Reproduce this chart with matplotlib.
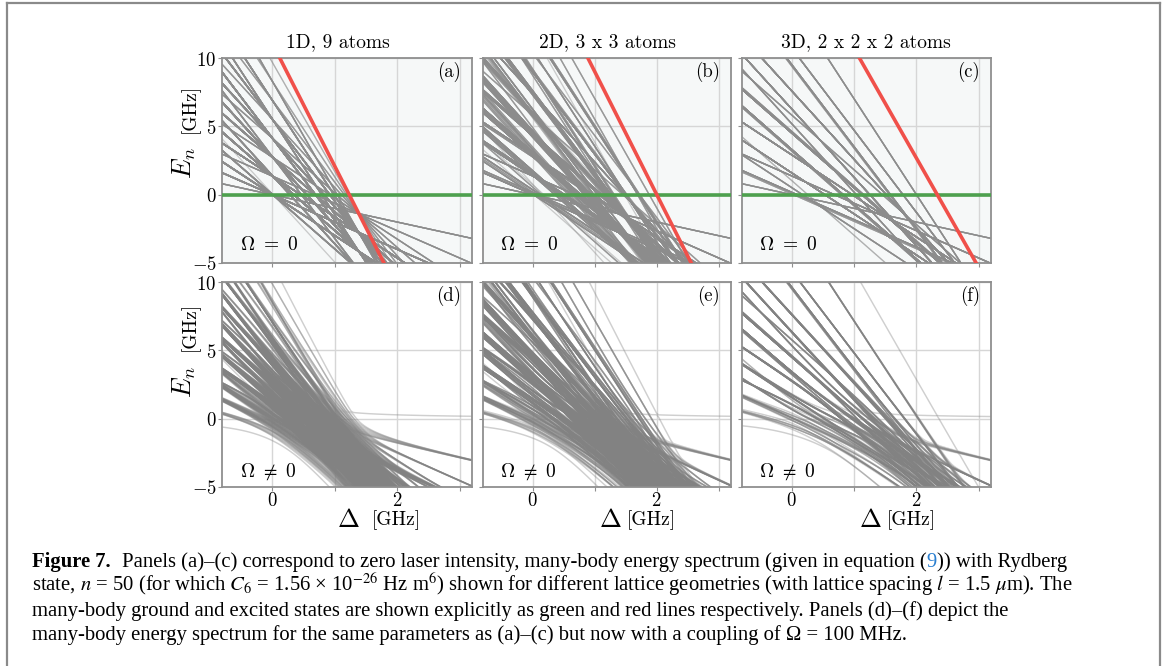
import numpy as np
import matplotlib
matplotlib.use("Agg")
import matplotlib.pyplot as plt
from matplotlib.collections import LineCollection
from matplotlib.lines import Line2D

# ---------------- data (physical parameters and geometries) ----------------
C6_HZ_M6 = 1.56e-26          # van der Waals coefficient, n = 50
LATTICE_SPACING_M = 1.5e-6   # lattice spacing l
RABI_GHZ = 0.5               # effective coupling seen in panels (d)-(f)
DETUNING_MIN, DETUNING_MAX = -0.8, 3.2
ENERGY_MIN, ENERGY_MAX = -5, 10

chain_sites = [(0, 0, 0), (1, 0, 0), (2, 0, 0), (3, 0, 0), (4, 0, 0),
               (5, 0, 0), (6, 0, 0), (7, 0, 0), (8, 0, 0)]
square_sites = [(0, 0, 0), (1, 0, 0), (2, 0, 0),
                (0, 1, 0), (1, 1, 0), (2, 1, 0),
                (0, 2, 0), (1, 2, 0), (2, 2, 0)]
cube_sites = [(0, 0, 0), (1, 0, 0), (0, 1, 0), (1, 1, 0),
              (0, 0, 1), (1, 0, 1), (0, 1, 1), (1, 1, 1)]

panel_titles = ["1D, 9 atoms", "2D, 3 x 3 atoms", "3D, 2 x 2 x 2 atoms"]
panel_letters = ["(a)", "(b)", "(c)", "(d)", "(e)", "(f)"]
x_ticks = [0, 1, 2, 3]
x_tick_labels = ["0", "", "2", ""]
y_ticks = [-5, 0, 5, 10]
y_tick_labels = ["-5", "0", "5", "10"]

caption_lines = [
    [("Figure 7.", dict(weight="bold")),
     ("Panels (a)–(c) correspond to zero laser intensity, many-body energy spectrum (given in equation (", {}),
     ("9", dict(color="#2a7fd0")),
     (")) with Rydberg", {})],
    [("state, $n$ = 50 (for which $C_6$ = 1.56 × 10$^{-26}$ Hz m$^6$) shown for different lattice geometries (with lattice spacing $l$ = 1.5 $\\mu$m). The", {})],
    [("many-body ground and excited states are shown explicitly as green and red lines respectively. Panels (d)–(f) depict the", {})],
    [("many-body energy spectrum for the same parameters as (a)–(c) but now with a coupling of Ω = 100 MHz.", {})],
]

# ---------------- model ----------------
def spectrum_terms(sites):
    pos = np.array(sites, float) * LATTICE_SPACING_M
    N = len(pos)
    d = np.linalg.norm(pos[:, None, :] - pos[None, :, :], axis=-1)
    V = np.zeros((N, N))
    m = d > 0
    V[m] = C6_HZ_M6 / d[m] ** 6 / 1e9
    states = np.arange(2 ** N)
    occ = (states[:, None] >> np.arange(N)) & 1
    n_exc = occ.sum(1)
    e_int = 0.5 * np.einsum("si,ij,sj->s", occ, V, occ)
    X = np.zeros((2 ** N, 2 ** N))
    for i in range(N):
        X[states, states ^ (1 << i)] = 1.0
    return n_exc, e_int, X

W, H = 1163, 666
fig = plt.figure(figsize=(W / 100, H / 100), dpi=100)
plt.rcParams["mathtext.fontset"] = "cm"

def rect(x0, y0, x1, y1):
    return [x0 / W, 1 - y1 / H, (x1 - x0) / W, (y1 - y0) / H]

cols = [(222, 472), (483, 731), (742, 991)]
rows = [(58, 263), (282, 487)]
geoms = [chain_sites, square_sites, cube_sites]
grid = np.linspace(DETUNING_MIN, DETUNING_MAX, 121)

SPINE = "#8f8f8f"

def style_axes(ax, row, col, face):
    ax.set_facecolor(face)
    ax.set_xlim(DETUNING_MIN, DETUNING_MAX)
    ax.set_ylim(ENERGY_MIN, ENERGY_MAX)
    ax.set_xticks(x_ticks)
    ax.set_yticks(y_ticks)
    ax.set_xticklabels(["$%s$" % t if t else "" for t in x_tick_labels])
    ax.set_yticklabels(["$%s$" % t for t in y_tick_labels])
    ax.grid(True, color="#d6d6d6", lw=1.0)
    ax.set_axisbelow(True)
    for s in ax.spines.values():
        s.set_color(SPINE)
        s.set_linewidth(1.3)
    ax.tick_params(direction="out", length=3, color=SPINE, labelsize=13.5,
                   labelbottom=(row == 1), labelleft=(col == 0))
    ax.tick_params(axis="x", pad=0)
    ax.tick_params(axis="y", pad=1)

for col, sites in enumerate(geoms):
    n_exc, e_int, X = spectrum_terms(sites)
    # --- top: Omega = 0 ---
    ax = fig.add_axes(rect(cols[col][0], rows[0][0], cols[col][1], rows[0][1]))
    style_axes(ax, 0, col, "#f6f8f8")
    segs = [[(DETUNING_MIN, e - k * DETUNING_MIN), (DETUNING_MAX, e - k * DETUNING_MAX)]
            for k, e in zip(n_exc, e_int)]
    ax.add_collection(LineCollection(segs, colors="#8c8c8c", alpha=0.42, linewidths=0.95, zorder=2))
    ax.axhline(0, color="#4ea04e", lw=2.6, zorder=3)
    kmax = n_exc.max()
    emax = e_int[np.argmax(n_exc)]
    ax.plot([DETUNING_MIN, DETUNING_MAX], [emax - kmax * DETUNING_MIN, emax - kmax * DETUNING_MAX],
            color="#f0504a", lw=2.6, zorder=4)
    ax.text(0.955, 0.93, panel_letters[col], transform=ax.transAxes, ha="right", va="center",
            fontsize=13.5, family="cmr10")
    ax.text(0.07, 0.09, r"$\Omega\ =\ 0$", transform=ax.transAxes, ha="left", va="center", fontsize=14)
    # --- bottom: Omega != 0 ---
    ax2 = fig.add_axes(rect(cols[col][0], rows[1][0], cols[col][1], rows[1][1]))
    style_axes(ax2, 1, col, "white")
    base = np.diag(e_int.astype(float)) + 0.5 * RABI_GHZ * X
    ev = np.empty((len(grid), len(n_exc)))
    for i, dlt in enumerate(grid):
        ev[i] = np.linalg.eigvalsh(base - dlt * np.diag(n_exc.astype(float)))
    segs2 = [np.column_stack([grid, ev[:, j]]) for j in range(ev.shape[1])]
    ax2.add_collection(LineCollection(segs2, colors="#828282", alpha=0.38, linewidths=1.05, zorder=2))
    ax2.text(0.955, 0.93, panel_letters[col + 3], transform=ax2.transAxes, ha="right", va="center",
             fontsize=13.5, family="cmr10")
    ax2.text(0.07, 0.075, r"$\Omega\ \neq\ 0$", transform=ax2.transAxes, ha="left", va="center", fontsize=14)

# titles
for cx, t in zip([338, 607, 866], panel_titles):
    fig.text(cx / W, 1 - 42 / H, t, ha="center", va="center", fontsize=14, family="cmr10")

# axis labels
for ey, gy in [(163, 108), (382, 326)]:
    fig.text(184 / W, 1 - ey / H, r"$E_n$", rotation=90, ha="center", va="center", fontsize=19)
    fig.text(190 / W, 1 - gy / H, "[GHz]", rotation=90, ha="center", va="center", fontsize=14, family="cmr10")
for dx, gx in [(348, 396), (610, 651), (870, 911)]:
    fig.text(dx / W, 1 - 520 / H, r"$\Delta$", ha="center", va="center", fontsize=19)
    fig.text(gx / W, 1 - 520 / H, "[GHz]", ha="center", va="center", fontsize=14, family="cmr10")

# border
bc = "#8a8a8a"
for xs, ys in [([7, 7], [3, 666]), ([7, 1160], [3, 3]), ([1160, 1160], [3, 666])]:
    fig.add_artist(Line2D([x / W for x in xs], [1 - y / H for y in ys], color=bc, lw=1.6))

# caption
renderer = fig.canvas.get_renderer()

def seg_width(txt, kw, size):
    t = fig.text(0, 0, txt, fontsize=size, family="Liberation Serif", math_fontfamily="stix", **kw)
    w = t.get_window_extent(renderer).width
    t.remove()
    return w

def line_width(line, size):
    w = 0
    for txt, kw in line:
        w += seg_width(txt, kw, size)
        if kw.get("weight") == "bold":
            w += 0.55 * size * 100 / 72
    return w

size = 14.0
size = 0.95 * size * (1128 - 32) / line_width(caption_lines[0], size)
for li, line in enumerate(caption_lines):
    x = 32
    y = 567 + 24.4 * li
    for txt, kw in line:
        t = fig.text(x / W, 1 - y / H, txt, fontsize=size, family="Liberation Serif",
                     math_fontfamily="stix", ha="left", va="baseline", **kw)
        x += t.get_window_extent(renderer).width
        if kw.get("weight") == "bold":
            x += 0.55 * size * 100 / 72

fig.savefig("out.png", dpi=100)
